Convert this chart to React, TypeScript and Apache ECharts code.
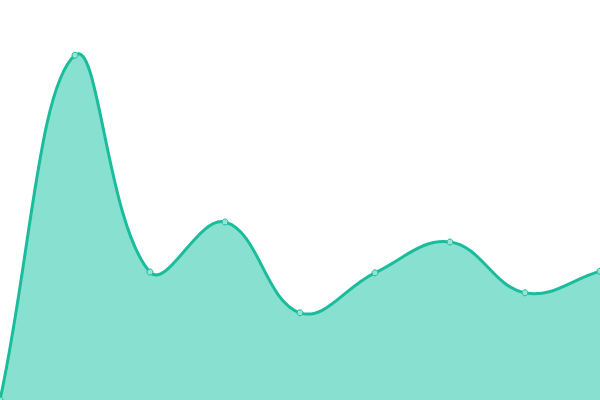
import React, { useEffect, useRef } from "react";
import * as echarts from "echarts";

const categories = ["1", "2", "3", "4", "5", "6", "7", "8", "9"];
const values = [0, 86.2, 32, 44.5, 21.8, 31.8, 39.5, 26.8, 32.2];

const TENSION = 0.4;

function buildPath(pts: number[][]): string {
  const n = pts.length;
  const cps: { prev: number[]; next: number[] }[] = [];
  for (let i = 0; i < n; i++) {
    const cur = pts[i];
    const prev = pts[i - 1] || cur;
    const next = pts[i + 1] || cur;
    const d01 = Math.hypot(cur[0] - prev[0], cur[1] - prev[1]);
    const d12 = Math.hypot(next[0] - cur[0], next[1] - cur[1]);
    const sum = d01 + d12 || 1;
    const fa = (TENSION * d01) / sum;
    const fb = (TENSION * d12) / sum;
    const vx = next[0] - prev[0];
    const vy = next[1] - prev[1];
    cps.push({
      prev: [cur[0] - fa * vx, cur[1] - fa * vy],
      next: [cur[0] + fb * vx, cur[1] + fb * vy],
    });
  }
  let d = `M${pts[0][0]},${pts[0][1]}`;
  for (let i = 1; i < n; i++) {
    const a = cps[i - 1].next;
    const b = cps[i].prev;
    d += ` C${a[0]},${a[1]} ${b[0]},${b[1]} ${pts[i][0]},${pts[i][1]}`;
  }
  return d;
}

export default function App() {
  const ref = useRef<HTMLDivElement>(null);
  useEffect(() => {
    if (!ref.current) return;
    const chart = echarts.init(ref.current, undefined, { renderer: "svg" });
    chart.setOption({
      animation: false,
      grid: { left: 0, right: 0, top: 0, bottom: 0 },
      xAxis: { type: "category", data: categories, boundaryGap: false, show: false },
      yAxis: { type: "value", min: 0, max: 100, show: false },
      series: [
        {
          type: "custom",
          data: values.map((v, i) => [i, v]),
          encode: { x: 0, y: 1 },
          clip: false,
          silent: true,
          renderItem: (params: any, api: any) => {
            if (params.dataIndex !== 0) return null;
            const pts = values.map((v, i) => api.coord([i, v]));
            const line = buildPath(pts);
            const base = api.coord([0, 0])[1];
            const last = pts[pts.length - 1];
            const area = `${line} L${last[0]},${base} L${pts[0][0]},${base} Z`;
            return {
              type: "group",
              children: [
                {
                  type: "path",
                  shape: { pathData: area },
                  style: { fill: "#88e0d0", stroke: null },
                },
                {
                  type: "path",
                  shape: { pathData: line },
                  style: { fill: null, stroke: "#1abc9c", lineWidth: 3 },
                },
              ],
            };
          },
        },
        {
          type: "scatter",
          data: values,
          symbol: "circle",
          symbolSize: 6,
          silent: true,
          itemStyle: { color: "#96e4d6", borderColor: "#1abc9c", borderWidth: 1, opacity: 1 },
          z: 3,
        },
      ],
    });
    return () => chart.dispose();
  }, []);
  return (
    <div
      ref={ref}
      style={{ position: "fixed", left: 0, top: 0, width: 600, height: 400 }}
    />
  );
}
